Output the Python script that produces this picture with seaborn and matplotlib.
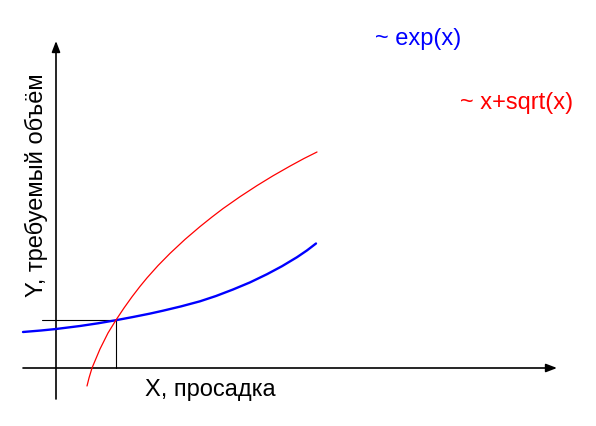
import matplotlib
matplotlib.use("Agg")
import matplotlib.pyplot as plt
import seaborn as sns
import pandas as pd

# Curve values (origin at axis crossing)
exp_x = [-33, -15, 0, 24, 42, 60, 77, 94, 107, 125, 144, 160, 177, 194, 211, 226, 241, 251, 260]
exp_y = [36, 37.5, 39, 42, 44.7, 47.8, 51, 54.4, 57.3, 61.6, 66.7, 72, 78.5, 85.6, 93.8, 101.8, 110.8, 117.6, 124.5]
sq_x = [31, 33, 36, 44, 52, 60, 68, 76, 84, 91, 102, 114, 129, 144, 156, 167, 184, 201, 217, 234, 248, 261]
sq_y = [-18, -10, 0, 19, 35, 48, 60, 71.2, 81.6, 90.1, 102.4, 114.6, 128.6, 141.4, 151, 159.4, 171.3, 182.4, 192.2, 201.9, 209.5, 216]
cross_x = 60
cross_y = 48

label_exp = "~ exp(x)"
label_sq = "~ x+sqrt(x)"
xlabel = "X, просадка"
ylabel = "Y, требуемый объём"

sns.set_theme(style="white")
plt.rcParams['font.family'] = ['Liberation Sans', 'DejaVu Sans']

fig = plt.figure(figsize=(5.96, 4.27), dpi=100)
ax = fig.add_axes([0, 0, 1, 1])
ax.set_xlim(-56, 540)
ax.set_ylim(-58, 369)
ax.axis('off')

df_exp = pd.DataFrame({"x": exp_x, "y": exp_y})
df_sq = pd.DataFrame({"x": sq_x, "y": sq_y})
sns.lineplot(data=df_exp, x="x", y="y", color="#0000ff", lw=1.7, sort=False,
             estimator=None, ax=ax, zorder=4)
sns.lineplot(data=df_sq, x="x", y="y", color="#ff0000", lw=0.9, sort=False,
             estimator=None, ax=ax, zorder=5)

# helper lines at the crossing point
ax.plot([-14, cross_x], [cross_y, cross_y], color="black", lw=0.8, zorder=3)
ax.plot([cross_x, cross_x], [cross_y, 0], color="black", lw=0.8, zorder=3)

# axes with arrows
arrow = dict(arrowstyle='-|>,head_length=0.65,head_width=0.25', lw=1.2,
             color='black', mutation_scale=10, shrinkA=0, shrinkB=0)
ax.annotate("", xy=(501, 0), xytext=(-33, 0), arrowprops=arrow)
ax.annotate("", xy=(0, 327), xytext=(0, -31), arrowprops=arrow)

ax.text(319, 330, label_exp, color="#0000ff", fontsize=17, ha='left', va='center')
ax.text(404, 266, label_sq, color="#ff0000", fontsize=17, ha='left', va='center')
ax.text(89, -27, xlabel, color="black", fontsize=17, ha='left', va='baseline')
ax.text(-20, 184, ylabel, color="black", fontsize=17, ha='center', va='center',
        rotation=90)

fig.savefig("out.png", dpi=100)
